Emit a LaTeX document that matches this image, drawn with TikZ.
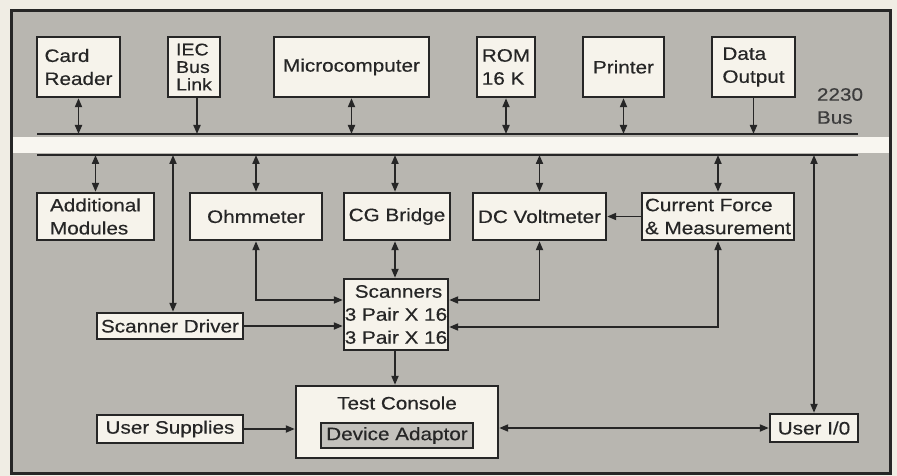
\documentclass[tikz,border=0pt]{standalone}
\usepackage{fontspec}
\setmainfont{Liberation Sans}[FakeStretch=1.15,FakeBold=0.4]
\usetikzlibrary{arrows.meta}
\definecolor{paper}{RGB}{240,237,228}
\definecolor{panel}{RGB}{184,182,176}
\definecolor{boxfill}{RGB}{246,243,235}
\definecolor{band}{RGB}{248,246,240}
\definecolor{ink}{RGB}{38,38,38}
\tikzset{
  blk/.style={draw=ink, fill=boxfill, line width=2.4pt, inner sep=0pt,
    text=ink, font=\fontsize{18}{23}\selectfont, align=left},
  conn/.style={draw=ink, line width=1.9pt},
  dbl/.style={conn, {Triangle[length=9pt,width=7pt]}-{Triangle[length=9pt,width=7pt]}},
  sgl/.style={conn, -{Triangle[length=9pt,width=7pt]}},
  busline/.style={draw=ink, line width=2.3pt},
  lbl/.style={text=ink!90, font=\fontsize{18}{23}\selectfont, inner sep=0pt, align=left}
}
\begin{document}
\begin{tikzpicture}[x=1pt,y=-1pt]
\useasboundingbox (0,0) rectangle (897,476);
\fill[paper] (0,0) rectangle (897,476);
\filldraw[fill=panel, draw=ink, line width=3pt] (11,11) rectangle (890,473);
% bus
\fill[band] (12.5,137) rectangle (888.5,153);
\coordinate (bu) at (0,134);
\coordinate (bl) at (0,155);
\draw[busline] (37,134) coordinate (buL) -- (858,134) coordinate (buR);
\draw[busline] (37,155) coordinate (blL) -- (858,155) coordinate (blR);
\node[lbl] (buslbl) at (840,106) {2230\\Bus};
% top row
\node[blk, minimum width=83pt, minimum height=60pt] (card) at (78.5,67) {Card\\Reader};
\node[blk, minimum width=52pt, minimum height=60pt, font=\fontsize{17}{17.5}\selectfont] (iec) at (194,67) {IEC\\Bus\\Link};
\node[blk, minimum width=155pt, minimum height=60pt] (micro) at (351.5,67) {Microcomputer};
\node[blk, minimum width=58pt, minimum height=60pt] (rom) at (506,67) {ROM\\16 K};
\node[blk, minimum width=81pt, minimum height=60pt] (prn) at (623.5,67) {Printer};
\node[blk, minimum width=83pt, minimum height=60pt] (dout) at (753.5,67) {Data\\Output};
% bottom row
\node[blk, minimum width=117pt, minimum height=47pt] (addm) at (95.5,216.5) {Additional\\Modules};
\node[blk, minimum width=132pt, minimum height=47pt] (ohm) at (256,216.5) {Ohmmeter};
\node[blk, minimum width=106pt, minimum height=47pt] (cg) at (397,216.5) {CG Bridge};
\node[blk, minimum width=133pt, minimum height=47pt] (dcv) at (539.5,216.5) {DC Voltmeter};
\node[blk, minimum width=152pt, minimum height=47pt] (cfm) at (718,216.5) {Current Force\\\& Measurement};
% lower part
\node[blk, minimum width=104pt, minimum height=71pt] (scan) at (396,314.5) {\hspace*{10pt}Scanners\\3 Pair X 16\\3 Pair X 16};
\node[blk, minimum width=146pt, minimum height=26pt] (sd) at (170,326) {Scanner Driver};
\node[blk, minimum width=202pt, minimum height=72pt] (tc) at (397,422) {};
\node[lbl, text=ink] (tctext) at (397,403) {Test Console};
\node[blk, fill=panel!85!white, minimum width=152pt, minimum height=25pt] (da) at (397,435.5) {Device Adaptor};
\node[blk, minimum width=146pt, minimum height=28pt] (us) at (170,429) {User Supplies};
\node[blk, minimum width=88pt, minimum height=28pt] (uio) at (814,428) {User I/0};
% top connectors
\draw[dbl] (card.south) -- (card.south |- bu);
\draw[sgl] ([xshift=3pt]iec.south) -- ([xshift=3pt]iec.south |- bu);
\draw[dbl] (micro.south) -- (micro.south |- bu);
\draw[dbl] (rom.south) -- (rom.south |- bu);
\draw[dbl] (prn.south) -- (prn.south |- bu);
\draw[sgl] (dout.south) -- (dout.south |- bu);
% bottom connectors
\draw[dbl] (addm.north) -- (addm.north |- bl);
\draw[dbl] (ohm.north) -- (ohm.north |- bl);
\draw[dbl] ([xshift=-2pt]cg.north) -- ([xshift=-2pt]cg.north |- bl);
\draw[dbl] (dcv.north) -- (dcv.north |- bl);
\draw[dbl] (cfm.north) -- (cfm.north |- bl);
\draw[dbl] ([xshift=3pt]sd.north) -- ([xshift=3pt]sd.north |- bl);
\draw[dbl] (uio.north) -- (uio.north |- bl);
\draw[sgl] (cfm.west) -- (dcv.east);
% scanners
\draw[dbl] (ohm.south) |- ([yshift=14.5pt]scan.west);
\draw[dbl] (dcv.south) |- ([yshift=14.5pt]scan.east);
\draw[dbl] (cfm.south) |- ([yshift=-12.5pt]scan.east);
\draw[sgl] (sd.east) -- (sd.east -| scan.west);
\draw[dbl] ([xshift=-1pt]scan.north) -- ([xshift=-1pt]scan.north |- cg.south);
\draw[sgl] ([xshift=-1pt]scan.south) -- ([xshift=-1pt]scan.south |- tc.north);
\draw[sgl] (us.east) -- (us.east -| tc.west);
\draw[dbl] (uio.west -| tc.east) -- (uio.west);
\end{tikzpicture}
\end{document}
